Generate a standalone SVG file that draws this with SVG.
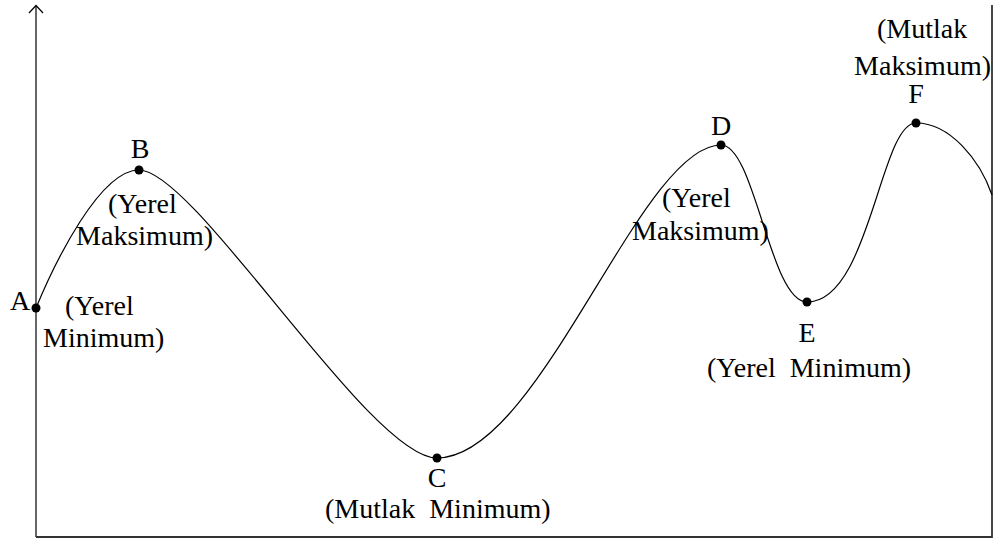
<svg xmlns="http://www.w3.org/2000/svg" width="994" height="539" viewBox="0 0 994 539">
<style>
text{font-family:"Liberation Serif","Times New Roman",serif;font-size:28px;fill:#000;white-space:pre}
.c{text-anchor:middle}
.e{text-anchor:end}
.dot{fill:#000}
.curve{fill:none;stroke:#000;stroke-width:1.2}
.axis{fill:none;stroke:#000;stroke-width:1.2}
.frame{fill:none;stroke:#333;stroke-width:1.8}
</style>
<rect width="994" height="539" fill="#fff"/>
<g id="axes">
<line class="axis" x1="36" y1="6" x2="36" y2="537"/>
<polyline class="axis" points="29,13 36,5.5 43,13"/>
<polyline class="frame" points="36,537 992,537 992,5"/>
</g>
<g id="connectors">
<path class="curve" d="M36,308 C55,262 100,170 139,170 C195,170 370,458 437,458 C540,458 640,145 721,145 C755,145 770,302 807,302 C870,302 880,123 916,123 C950,123 980,160 992,195"/>
</g>
<g id="A">
<circle class="dot" cx="36" cy="308" r="4.5"/>
<text x="10" y="310">A</text>
<text x="65" y="315">(Yerel</text>
<text x="43" y="347">Minimum)</text>
</g>
<g id="B">
<circle class="dot" cx="139" cy="170" r="4.5"/>
<text class="c" x="140" y="158">B</text>
<text x="108" y="213">(Yerel</text>
<text class="e" x="213" y="245">Maksimum)</text>
</g>
<g id="C">
<circle class="dot" cx="437" cy="458" r="4.5"/>
<text class="c" x="437" y="487">C</text>
<text x="325" y="518" xml:space="preserve">(Mutlak  Minimum)</text>
</g>
<g id="D">
<circle class="dot" cx="721" cy="145" r="4.5"/>
<text class="c" x="721" y="135">D</text>
<text x="662" y="207">(Yerel</text>
<text x="632" y="240">Maksimum)</text>
</g>
<g id="E">
<circle class="dot" cx="807" cy="302" r="4.5"/>
<text class="c" x="807" y="342">E</text>
<text x="707" y="377" xml:space="preserve">(Yerel  Minimum)</text>
</g>
<g id="F">
<circle class="dot" cx="916" cy="123" r="4.5"/>
<text class="c" x="916" y="103">F</text>
<text x="877" y="38">(Mutlak</text>
<text class="e" x="991" y="75">Maksimum)</text>
</g>
</svg>
